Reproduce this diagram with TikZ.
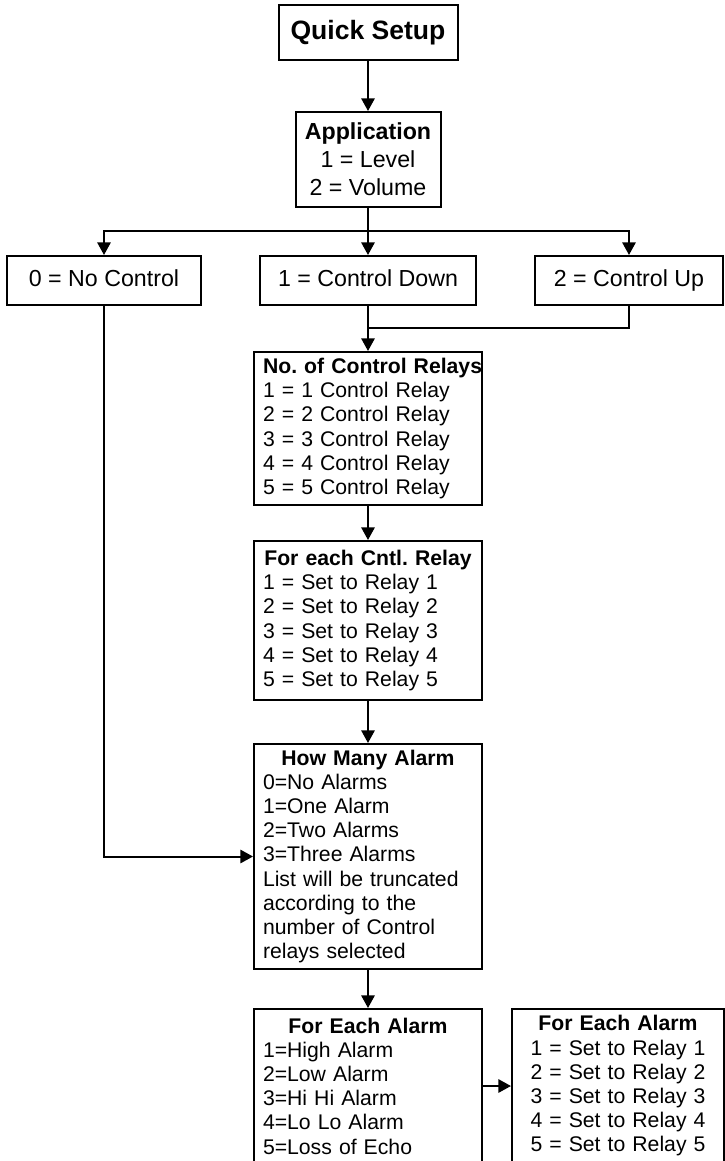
\documentclass[tikz,border=0pt]{standalone}
\usepackage{fontspec}
\setmainfont{Liberation Sans}
\usetikzlibrary{arrows.meta}
\frenchspacing

\newcommand{\fsmall}{\fontsize{15.9pt}{18.15pt}\selectfont}
\newcommand{\fmid}{\fontsize{17.4pt}{21pt}\selectfont}
\newcommand{\fbig}{\fontsize{19.9pt}{24pt}\selectfont}
\newcommand{\boxtitle}[1]{\hbox to\hsize{\hss\textbf{#1}\hss}}

\begin{document}
\begin{tikzpicture}[
  x=0.75pt, y=-0.75pt,
  box/.style={rectangle, draw, line width=1.5pt, inner sep=0pt, align=center},
  listbox/.style={box, text width=157.5pt, inner xsep=6.75pt, align=left, font=\fsmall},
  optbox/.style={box, font=\fmid, minimum height=36.75pt, text height=12.6pt, text depth=3.6pt},
  arrow/.style={-{Triangle[length=9.5pt,width=10pt]}, line width=1.5pt},
  link/.style={line width=1.5pt}
]
\clip (0,0) rectangle (725,1161);

% Top of the setup menu
\node[box, font=\fbig\bfseries, minimum width=134.25pt, minimum height=41.25pt] (qs) at (368,32.5) {Quick Setup};
\node[box, font=\fmid, minimum width=108.75pt, minimum height=71.25pt] (app) at (368,159.5) {\textbf{Application}\\1 = Level\\2 = Volume};

% Control choice
\node[optbox, minimum width=145.5pt] (noctl) at (104,280.5) {0 = No Control};
\node[optbox, minimum width=162pt] (cdown) at (368,280.5) {1 = Control Down};
\node[optbox, minimum width=141pt] (cup) at (629,280.5) {2 = Control Up};
\coordinate (split) at (368,231);
\coordinate (join) at (368,327.5);

% Relay setup
\node[listbox, minimum height=114.75pt] (ncr) at (368,428.5) {\mbox{\textbf{No. of Control Relays}}\\1 = 1 Control Relay\\2 = 2 Control Relay\\3 = 3 Control Relay\\4 = 4 Control Relay\\5 = 5 Control Relay};
\node[listbox, minimum height=119.25pt] (fcr) at (368,620.5) {\boxtitle{For each Cntl. Relay}\\1 = Set to Relay 1\\2 = Set to Relay 2\\3 = Set to Relay 3\\4 = Set to Relay 4\\5 = Set to Relay 5};

% Alarms
\node[listbox, minimum height=168.75pt] (hma) at (368,856.5) {\boxtitle{How Many Alarm}\\0=No Alarms\\1=One Alarm\\2=Two Alarms\\3=Three Alarms\\List will be truncated\\according to the\\number of Control\\relays selected};
\node[listbox, minimum height=115.5pt] (fea) at (368,1086) {\boxtitle{For Each Alarm}\\1=High Alarm\\2=Low Alarm\\3=Hi Hi Alarm\\4=Lo Lo Alarm\\5=Loss of Echo};
\node[box, font=\fsmall, text width=145.5pt, inner xsep=6.75pt, minimum height=115.5pt] (fer) at (618,1086) {\textbf{For Each Alarm}\\1 = Set to Relay 1\\2 = Set to Relay 2\\3 = Set to Relay 3\\4 = Set to Relay 4\\5 = Set to Relay 5};

% Arrows
\draw[arrow] (qs) -- (app);
\draw[arrow] (app) -- (cdown);
\draw[arrow] (split) -| (noctl);
\draw[arrow] (split) -| (cup);
\draw[arrow] (cdown) -- (ncr);
\draw[link] (cup) |- (join);
\draw[arrow] (ncr) -- (fcr);
\draw[arrow] (fcr) -- (hma);
\draw[arrow] (noctl) |- (hma);
\draw[arrow] (hma) -- (fea);
\draw[arrow] (fea) -- (fer);

\end{tikzpicture}
\end{document}
